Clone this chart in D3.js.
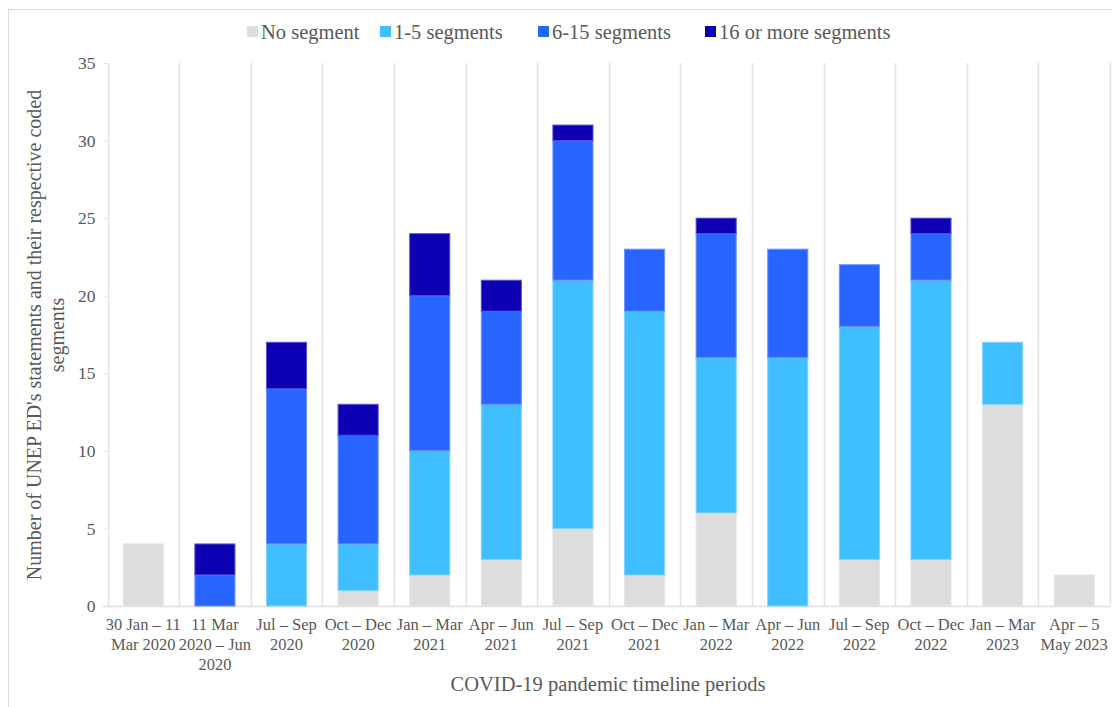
<!DOCTYPE html>
<html>
<head>
<meta charset="utf-8">
<script src="https://cdn.jsdelivr.net/npm/d3@7"></script>
<style>
  html, body { margin: 0; padding: 0; background: #fff; }
  svg { display: block; }
  text { font-family: "Liberation Serif", "Times New Roman", serif; fill: #595959; }
</style>
</head>
<body>
<svg id="chart" width="1112" height="707"></svg>
<script>
const categories = [
  "30 Jan – 11|Mar 2020",
  "11 Mar|2020 – Jun|2020",
  "Jul – Sep|2020",
  "Oct – Dec|2020",
  "Jan – Mar|2021",
  "Apr – Jun|2021",
  "Jul – Sep|2021",
  "Oct – Dec|2021",
  "Jan – Mar|2022",
  "Apr – Jun|2022",
  "Jul – Sep|2022",
  "Oct – Dec|2022",
  "Jan – Mar|2023",
  "Apr – 5|May 2023"
];
const seriesNames = ["No segment", "1-5 segments", "6-15 segments", "16 or more segments"];
const noSegment   = [4, 0, 0, 1, 2, 3, 5, 2, 6, 0, 3, 3, 13, 2];
const seg1to5     = [0, 0, 4, 3, 8, 10, 16, 17, 10, 16, 15, 18, 4, 0];
const seg6to15    = [0, 2, 10, 7, 10, 6, 9, 4, 8, 7, 4, 3, 0, 0];
const seg16plus   = [0, 2, 3, 2, 4, 2, 1, 0, 1, 0, 0, 1, 0, 0];
const yTicks = [0, 5, 10, 15, 20, 25, 30, 35];
const colors = ["#dddddd", "#3fbfff", "#2864ff", "#0c00b2"];
const strokes = ["#e6e6e6", "#7fd4ff", "#6f95ff", "#5b52d6"];

const svg = d3.select("#chart");
const margin = { left: 107.5, right: 1110, top: 63, bottom: 606 };

// outer border
svg.append("rect").attr("x", 8.5).attr("y", 9.5).attr("width", 1112).attr("height", 720)
  .attr("fill", "none").attr("stroke", "#d9d9d9").attr("stroke-width", 1);

const keys = ["s0", "s1", "s2", "s3"];
const table = categories.map((c, i) => ({
  cat: c, s0: noSegment[i], s1: seg1to5[i], s2: seg6to15[i], s3: seg16plus[i]
}));
const stacked = d3.stack().keys(keys)(table);

const x = d3.scaleBand().domain(categories).range([margin.left, margin.right]).paddingInner(0.44).paddingOuter(0.22);
const y = d3.scaleLinear().domain([0, 35]).range([margin.bottom, margin.top]);

// vertical category dividers
const dividers = d3.range(categories.length + 1).map(i => margin.left + i * (margin.right - margin.left) / categories.length);
svg.append("g").selectAll("line").data(dividers).join("line")
  .attr("x1", d => Math.round(d) + 0.5).attr("x2", d => Math.round(d) + 0.5)
  .attr("y1", y(35)).attr("y2", y(0))
  .attr("stroke", "#e3e3e3").attr("stroke-width", 1.5);

// baseline
svg.append("line").attr("x1", margin.left - 5).attr("x2", margin.right)
  .attr("y1", y(0) + 0.5).attr("y2", y(0) + 0.5).attr("stroke", "#e0e0e0").attr("stroke-width", 1.5);

// y axis ticks
const yAxis = d3.axisLeft(y).tickValues(yTicks).tickSize(4).tickPadding(8);
const gy = svg.append("g").attr("transform", `translate(${margin.left},0)`).call(yAxis);
gy.select(".domain").remove();
gy.selectAll(".tick line").attr("stroke", "#e0e0e0");
gy.selectAll(".tick text").style("font-size", "17.5px").style("font-family", "Liberation Serif").attr("fill", "#595959");

// bars
svg.append("g").selectAll("g").data(stacked).join("g")
  .attr("fill", (d, i) => colors[i]).attr("stroke", (d, i) => strokes[i])
  .selectAll("rect").data(d => d.filter(v => v[1] - v[0] > 0)).join("rect")
  .attr("x", d => x(d.data.cat)).attr("width", x.bandwidth())
  .attr("y", d => y(d[1])).attr("height", d => y(d[0]) - y(d[1]))
  .attr("stroke-width", 1);

// x tick labels
const xl = svg.append("g");
categories.forEach((c, i) => {
  const t = xl.append("text").attr("x", x(c) + x.bandwidth() / 2).attr("y", 630)
    .attr("text-anchor", "middle").style("font-size", "16.5px");
  c.split("|").forEach((ln, j) => {
    t.append("tspan").attr("x", x(c) + x.bandwidth() / 2).attr("dy", j === 0 ? 0 : 20).text(ln);
  });
});

// x axis title
svg.append("text").attr("x", 608).attr("y", 691).attr("text-anchor", "middle")
  .style("font-size", "20.5px").text("COVID-19 pandemic timeline periods");

// y axis title
const yt = svg.append("text").attr("transform", "translate(0,335) rotate(-90)")
  .attr("text-anchor", "middle").style("font-size", "20px");
yt.append("tspan").attr("x", 0).attr("y", 41).text("Number of UNEP ED's statements and their respective coded");
yt.append("tspan").attr("x", 0).attr("y", 64).text("segments");

// legend
const legendX = [247, 380, 538, 705];
const lg = svg.append("g");
seriesNames.forEach((n, i) => {
  lg.append("rect").attr("x", legendX[i]).attr("y", 26).attr("width", 11).attr("height", 11).attr("fill", colors[i]);
  lg.append("text").attr("x", legendX[i] + 14).attr("y", 38.5).style("font-size", "20.5px").text(n);
});
</script>
</body>
</html>
